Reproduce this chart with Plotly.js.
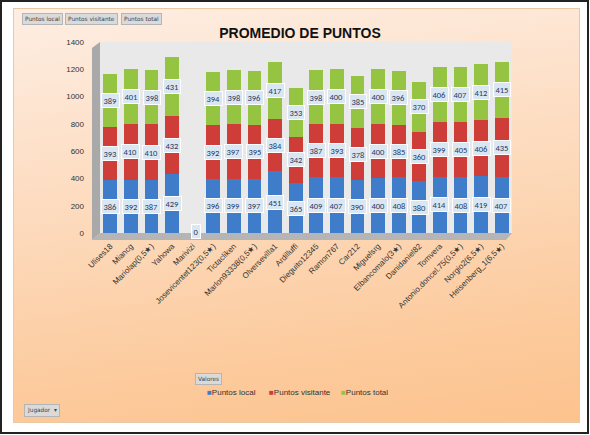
<!DOCTYPE html>
<html>
<head>
<meta charset="utf-8">
<script src="https://cdn.plot.ly/plotly-3.0.1.min.js"></script>
<style>
  html, body { margin:0; padding:0; background:#ffffff; }
  #frame { position:absolute; left:0; top:0; width:589px; height:434px; box-sizing:border-box;
           border:2px solid #222; background:#ffffff; }
  #peach { position:absolute; left:13px; top:8px; width:567px; height:415px; box-sizing:border-box;
           border:1px solid #e9c9a6;
           background:linear-gradient(172deg, #fdeee3 0%, #fddcc0 40%, #fcca9c 80%, #fcc38e 100%); }
  #chart { position:absolute; left:0; top:0; width:590px; height:435px; }
</style>
</head>
<body>
<div id="frame"></div>
<div id="peach"></div>
<div id="chart"></div>
<script>
const jugadores = ["Ulises18","Miancg","Mariolap(0,5★)","Yahowa","Marivizi","Josevicentet123(0,5★)",
  "Tictacliken","Marlon93338(0,5★)","Olversevilla1","Ardilluffi","Dieguito12345","Ramon767","Car212",
  "Miguelsrg","Elbancomalo(3★)","Danidaniel82","Tomvera","Antonio.doncel.75(0,5★)","Norgio2(6,5★)","Heisenberg_1(6,5★)"];
const puntosLocal =     [386,392,387,429,0,396,399,397,451,365,409,407,390,400,408,380,414,408,419,407];
const puntosVisitante = [393,410,410,432,null,392,397,395,384,342,387,393,378,400,385,360,399,405,406,435];
const puntosTotal =     [389,401,398,431,null,394,398,396,417,353,398,400,385,400,396,370,406,407,412,415];
const yTicks = [0,200,400,600,800,1000,1200,1400];

const seriesNames = ["Puntos local","Puntos visitante","Puntos total"];
const seriesColors = ["#3f7dca","#cf3d39","#94c441"];
const seriesData = [puntosLocal, puntosVisitante, puntosTotal];

const traces = seriesData.map((vals, i) => ({
  type:'bar', name:seriesNames[i], x:jugadores, y:vals.map(v => v === null ? 0 : v),
  marker:{color:seriesColors[i], line:{width:0}}, hoverinfo:'skip', showlegend:false
}));

// plot area in pixels: x 100..512, y 42..233
const L = 100, R = 512, T = 42, B = 233;
const px = x => (x - L) / (R - L);
const py = y => (B - y) / (B - T);

const annotations = [];
// data labels
for (let c = 0; c < jugadores.length; c++) {
  let base = 0;
  for (let s = 0; s < seriesData.length; s++) {
    const v = seriesData[s][c];
    if (v === null) continue;
    annotations.push({
      x: jugadores[c], y: base + v / 2, xref:'x', yref:'y', text: String(v), showarrow:false,
      xanchor:'center', yanchor:'middle',
      font:{family:'Carlito, "Liberation Sans", Arial, sans-serif', size:8.5, color:'#1f3a60'},
      bgcolor:'#dbe6f3', bordercolor:'#ffffff', borderwidth:1, borderpad:1.5,
      yshift: v === 0 ? 2 : 0, xshift: v === 0 ? 3 : 0
    });
    base += v;
  }
}
// field buttons
const btn = (text, x, y) => ({
  x: px(x), y: py(y), xref:'paper', yref:'paper', text, showarrow:false,
  xanchor:'center', yanchor:'middle',
  font:{family:'"DejaVu Sans", sans-serif', size:5.8, color:'#444'},
  bgcolor:'#dadada', bordercolor:'#b5b5b5', borderwidth:1, borderpad:2
});
annotations.push(btn('Puntos local', 42, 19));
annotations.push(btn('Puntos visitante', 91, 19));
annotations.push(btn('Puntos total', 141, 19));
annotations.push(btn('Valores', 208, 379));
annotations.push(btn('Jugador &nbsp;▾', 42, 410));
// legend
const legX = [205, 267, 339];
seriesNames.forEach((n, i) => {
  annotations.push({
    x: px(legX[i]), y: py(392), xref:'paper', yref:'paper', xanchor:'left', yanchor:'middle', showarrow:false,
    text: '<span style="color:' + seriesColors[i] + '">■</span>' + n,
    font:{family:'"Liberation Sans", Arial, sans-serif', size:8, color:'#333'}
  });
});

// decorative 3D walls (left side wall and floor)
const pt = (x, y) => px(x).toFixed(4) + ',' + py(y).toFixed(4);
const shapes = [
  {type:'path', xref:'paper', yref:'paper', layer:'below',
   path:'M' + pt(92,48) + ' L' + pt(100,42) + ' L' + pt(100,233) + ' L' + pt(92,240) + ' Z',
   fillcolor:'#a9a9a9', line:{width:0}},
  {type:'path', xref:'paper', yref:'paper', layer:'below',
   path:'M' + pt(100,233) + ' L' + pt(512,233) + ' L' + pt(506,240) + ' L' + pt(92,240) + ' Z',
   fillcolor:'#b5b5b5', line:{width:0}}
];

const layout = {
  width:590, height:435,
  margin:{l:L, r:590 - R, t:T, b:435 - B, pad:0},
  paper_bgcolor:'rgba(0,0,0,0)', plot_bgcolor:'#e9e9e9',
  barmode:'stack', bargap:0.33,
  title:{text:'<b>PROMEDIO DE PUNTOS</b>', x:300/590, xref:'container', xanchor:'center',
         y:1 - 33/435, yref:'container', yanchor:'middle',
         font:{family:'"Liberation Sans", Arial, sans-serif', size:14, color:'#111'}},
  xaxis:{type:'category', tickangle:-45, showgrid:false, showline:false, ticks:'', automargin:false,
         ticklabelstandoff:6,
         tickfont:{family:'"Liberation Sans", Arial, sans-serif', size:8, color:'#333'}},
  yaxis:{range:[0,1400], tickvals:yTicks, showgrid:false, zeroline:false, showline:false, ticks:'',
         ticklabelstandoff:15, automargin:false,
         tickfont:{family:'"Liberation Sans", Arial, sans-serif', size:8, color:'#333'}},
  shapes, annotations
};

Plotly.newPlot('chart', traces, layout, {displayModeBar:false, staticPlot:true});
</script>
</body>
</html>
